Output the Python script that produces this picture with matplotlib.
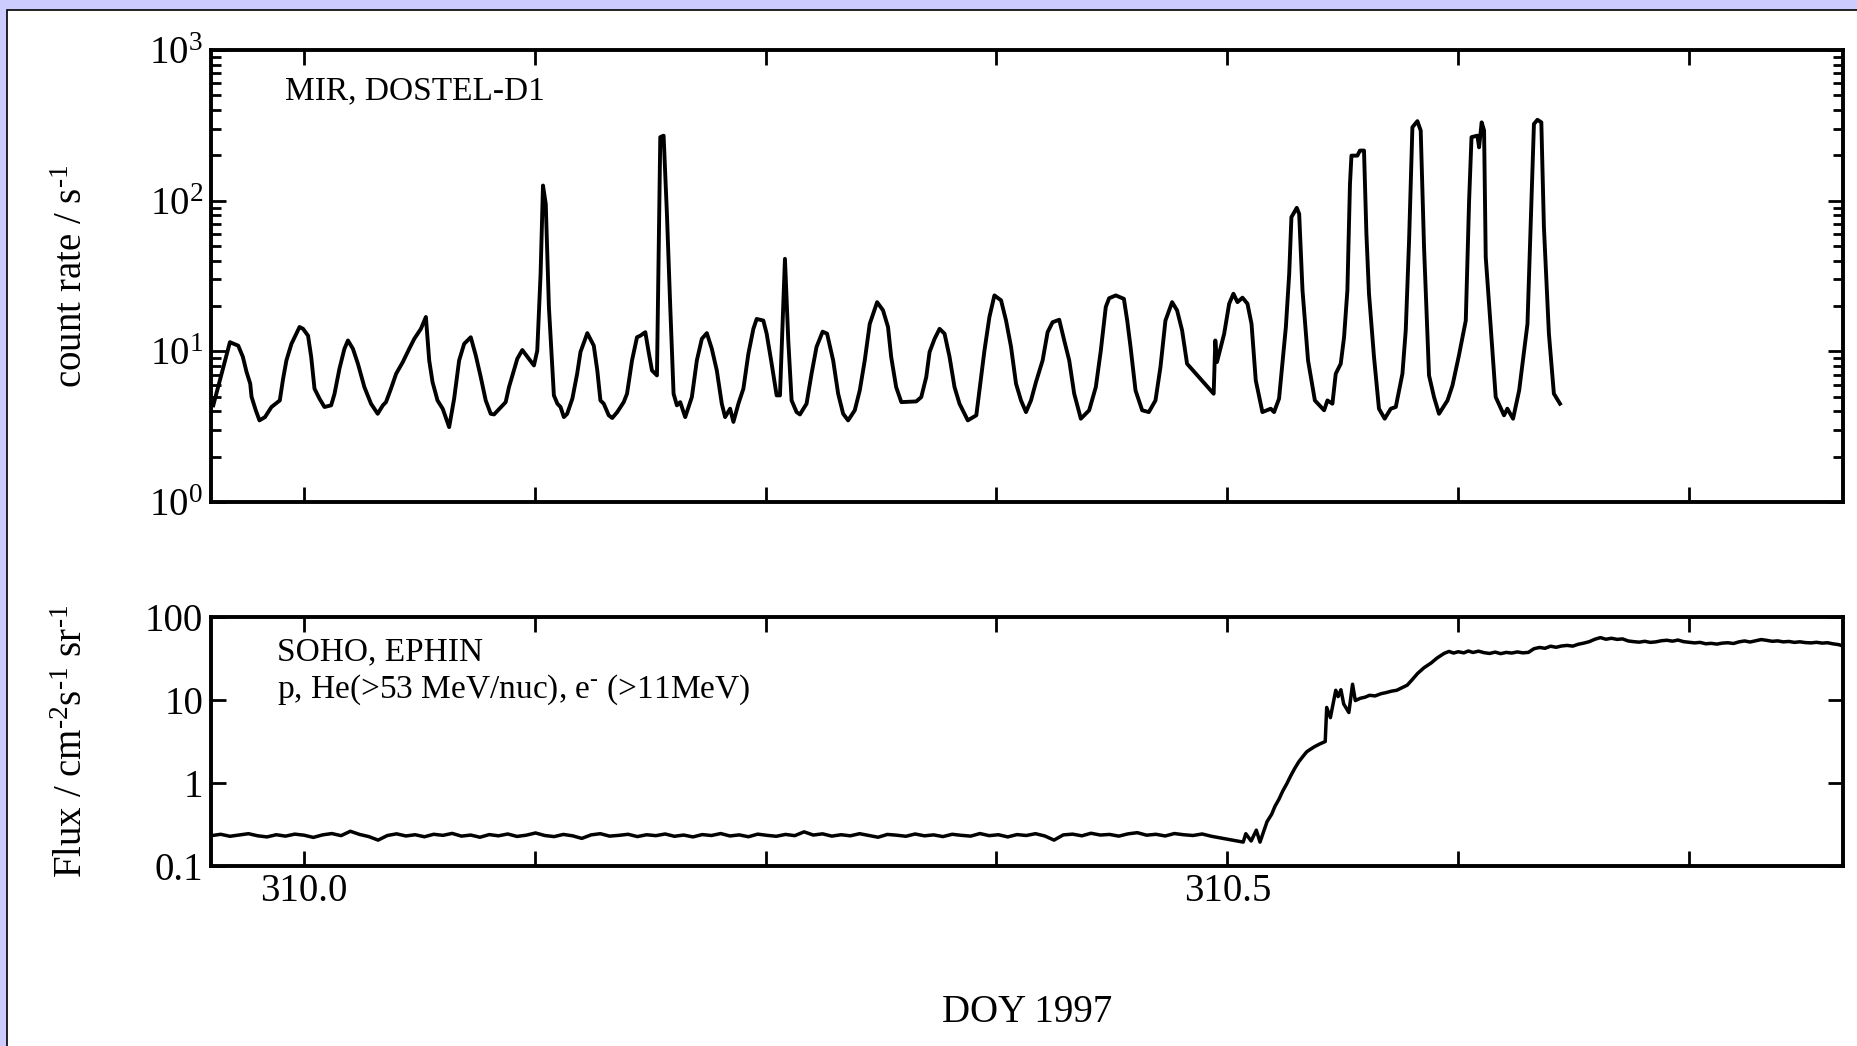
import matplotlib
matplotlib.use('Agg')
import matplotlib.pyplot as plt
from matplotlib.patches import Rectangle
from matplotlib.ticker import FixedLocator, LogLocator, NullLocator, FixedFormatter
import numpy as np

# MIR DOSTEL-D1 count rate (DOY 1997, counts/s)
mir_doy = [
    309.951, 309.9555, 309.960, 309.9645, 309.967, 309.969, 309.971, 309.9717, 309.974, 309.976,
    309.979, 309.9825, 309.987, 309.9888, 309.9906, 309.9933, 309.9977, 309.9996, 310.0023, 310.004,
    310.0058, 310.0085, 310.0112, 310.0148, 310.0166, 310.0193, 310.022, 310.0239, 310.0266, 310.0293,
    310.0328, 310.0364, 310.040, 310.0428, 310.0445, 310.0472, 310.050, 310.0536, 310.0571, 310.0598,
    310.0634, 310.0661, 310.0679, 310.0697, 310.0724, 310.0752, 310.0787, 310.0814, 310.0841, 310.0868,
    310.0904, 310.0931, 310.0958, 310.0985, 310.1012, 310.103, 310.1093, 310.1111, 310.1156, 310.1183,
    310.1219, 310.1246, 310.1264, 310.1282, 310.1295, 310.131, 310.1327, 310.1354,
    310.1373, 310.139, 310.1408, 310.1426, 310.1454, 310.148, 310.1498, 310.1535, 310.157, 310.1589,
    310.1606, 310.1624, 310.1651, 310.167, 310.1697, 310.1732, 310.175, 310.1777, 310.1804, 310.1822,
    310.1849, 310.1867, 310.1885, 310.1912, 310.193, 310.1948, 310.1966, 310.1984, 310.2002, 310.202,
    310.2038, 310.2065, 310.2101, 310.2128, 310.2155, 310.2182, 310.2209, 310.2236, 310.2263, 310.2281,
    310.2308, 310.2326, 310.2353, 310.238, 310.2407, 310.2434, 310.2452, 310.2488, 310.2506, 310.2533,
    310.256, 310.2578, 310.2605, 310.2623, 310.2641, 310.2668, 310.2686, 310.2722, 310.2749, 310.2776,
    310.2809, 310.2833, 310.2866, 310.2893, 310.292, 310.2947, 310.2983, 310.301, 310.3037, 310.3064,
    310.3104, 310.3136, 310.3163, 310.318, 310.3207, 310.3235, 310.3316, 310.3343, 310.337, 310.3388,
    310.3415, 310.3442, 310.3469, 310.3496, 310.3523, 310.355, 310.3595, 310.3641, 310.3658, 310.3685,
    310.3712, 310.3739, 310.3775, 310.3802, 310.3829, 310.3856, 310.3883, 310.391, 310.3937, 310.3964,
    310.400, 310.4027, 310.4054, 310.409, 310.4117, 310.4144, 310.4171, 310.4207, 310.4252, 310.4288,
    310.4315, 310.4342, 310.436, 310.4396, 310.444, 310.4458, 310.4476, 310.4503, 310.4539, 310.4575,
    310.4611, 310.4638, 310.4665, 310.4701, 310.4728, 310.4755, 310.4782, 310.4926, 310.4935, 310.4944,
    310.4983, 310.501, 310.5033, 310.5055, 310.5082, 310.5109, 310.5131, 310.5154, 310.519, 310.5235,
    310.5253, 310.528, 310.5317, 310.5335, 310.5347, 310.5376, 310.5389, 310.5407, 310.5437, 310.5474,
    310.5524, 310.5542, 310.5569, 310.5587, 310.5614, 310.5632, 310.565, 310.5664, 310.5672, 310.5704,
    310.5718, 310.574, 310.5753, 310.5767, 310.5794, 310.5821, 310.5852, 310.5885, 310.5912, 310.5948,
    310.5966, 310.5984, 310.6002, 310.6029, 310.6047, 310.6065, 310.6092, 310.6119, 310.6146, 310.6192,
    310.6219, 310.6254, 310.6291, 310.6309, 310.6322, 310.6354, 310.6363, 310.6377, 310.639, 310.6399,
    310.6426, 310.6453, 310.6498, 310.6516, 310.6547, 310.658, 310.6625, 310.6642, 310.666, 310.6679,
    310.670, 310.6714, 310.6741, 310.6768, 310.6801,
]
mir_rate = [
    4.38, 7.1, 11.5, 10.9, 9.2, 7.3, 6.1, 5.0, 4.06, 3.48,
    3.66, 4.27, 4.72, 6.58, 8.71, 11.2, 14.5, 14.1, 12.7, 9.2,
    5.65, 4.85, 4.27, 4.38, 5.2, 7.66, 10.4, 11.8, 10.4, 8.27,
    5.79, 4.49, 3.85, 4.38, 4.6, 5.65, 7.1, 8.49, 10.4, 12.1,
    14.1, 16.9, 8.7, 6.25, 4.72, 4.16, 3.14, 4.85, 8.7, 11.2,
    12.4, 9.4, 6.75, 4.72, 3.85, 3.81, 4.6, 5.79, 8.93, 10.2,
    8.93, 8.06, 10.1, 32.7, 126, 95, 19.7, 5.1,
    4.49, 4.27, 3.66, 3.85, 4.85, 7.1, 9.9, 13.2, 10.9, 7.47,
    4.72, 4.49, 3.76, 3.61, 3.95, 4.6, 5.23, 8.7, 12.4, 12.7,
    13.4, 9.9, 7.47, 6.92, 264, 270, 81.7, 19.7, 5.23, 4.38,
    4.6, 3.66, 4.97, 8.7, 12.1, 13.2, 10.4, 7.47, 4.49, 3.66,
    4.16, 3.4, 4.49, 5.65, 9.64, 14.1, 16.4, 16.0, 13.1, 8.27,
    5.1, 5.1, 41.1, 11.8, 4.72, 3.95, 3.81, 4.49, 7.1, 10.7,
    13.5, 13.1, 8.7, 5.23, 3.85, 3.48, 4.06, 5.5, 8.7, 15.2,
    21.2, 18.7, 14.5, 9.2, 5.79, 4.6, 4.65, 4.97, 6.75, 9.9,
    12.1, 14.1, 13.1, 9.2, 5.79, 4.49, 3.48, 3.76, 5.5, 10.1,
    16.9, 23.5, 21.8, 16.0, 10.7, 6.1, 4.72, 3.95, 4.72, 6.25,
    8.7, 13.4, 15.6, 16.2, 11.8, 8.7, 5.23, 3.57, 4.06, 5.79,
    10.1, 19.7, 22.5, 23.5, 22.3, 16.0, 10.7, 5.5, 4.06, 3.95,
    4.72, 7.86, 16.0, 21.2, 18.7, 13.8, 8.27, 5.23, 11.8, 8.49,
    13.1, 20.7, 24.1, 21.2, 22.7, 20.7, 15.2, 6.41, 3.95, 4.16,
    3.95, 4.85, 14.5, 32.7, 77.7, 89.6, 81.7, 25.4, 8.7, 4.72,
    4.06, 4.72, 4.49, 7.1, 8.27, 12.4, 25.4, 129, 199, 199,
    215, 215, 60.2, 24.1, 9.2, 4.16, 3.57, 4.16, 4.27, 7.1,
    13.8, 54.4, 307, 337, 292, 49.1, 6.92, 4.97, 3.85, 4.72,
    5.94, 9.4, 16.0, 100, 264, 270, 226, 331, 292, 42.2,
    14.5, 4.97, 3.76, 4.16, 3.57, 5.5, 15.2, 66.7, 323, 344,
    331, 66.7, 13.1, 5.23, 4.49,
]

# SOHO EPHIN quiet-time flux, evenly sampled from DOY 309.95 to 310.4914
ephin_quiet_start = 309.95
ephin_quiet_end = 310.4914
ephin_quiet_flux = [
    0.232, 0.241, 0.228, 0.236, 0.245, 0.231, 0.224, 0.238, 0.229, 0.242,
    0.235, 0.221, 0.237, 0.246, 0.232, 0.262, 0.240, 0.226, 0.205, 0.233,
    0.244, 0.230, 0.238, 0.225, 0.241, 0.234, 0.247, 0.229, 0.236, 0.222,
    0.239, 0.231, 0.243, 0.227, 0.235, 0.250, 0.233, 0.226, 0.240, 0.231,
    0.215, 0.237, 0.245, 0.229, 0.234, 0.241, 0.226, 0.238, 0.232, 0.243,
    0.228, 0.236, 0.224, 0.239, 0.233, 0.246, 0.230, 0.237, 0.225, 0.242,
    0.234, 0.228, 0.240, 0.232, 0.258, 0.236, 0.244, 0.229, 0.238, 0.231,
    0.245, 0.233, 0.222, 0.240, 0.235, 0.228, 0.243, 0.231, 0.237, 0.226,
    0.241, 0.234, 0.229, 0.246, 0.232, 0.238, 0.224, 0.239, 0.233, 0.245,
    0.230, 0.205, 0.237, 0.242, 0.231, 0.248, 0.236, 0.240, 0.229, 0.244,
    0.252, 0.235, 0.241, 0.230, 0.246, 0.238, 0.233, 0.243, 0.228,
]

# SOHO EPHIN event flux (DOY 1997, /cm2 s sr)
ephin_event_doy = [
    310.5086, 310.5100, 310.5129, 310.5157, 310.5177, 310.5215, 310.5240, 310.5258, 310.5280, 310.5300,
    310.5322, 310.5344, 310.5365, 310.5386, 310.5410, 310.5430, 310.5450, 310.5472, 310.5500, 310.5530,
    310.5538, 310.5558, 310.5575, 310.5587, 310.5600, 310.5615, 310.5630, 310.5658, 310.5678, 310.5693,
    310.5720, 310.5745, 310.5770, 310.5800, 310.5831, 310.5860, 310.5890, 310.5917, 310.5950, 310.5974,
    310.6000, 310.6031, 310.6065, 310.6103, 310.6135, 310.6174, 310.6200, 310.6225, 310.6250, 310.6280,
    310.6305, 310.6330, 310.6360, 310.6390, 310.6420, 310.6450, 310.6480, 310.6510, 310.6540, 310.6570,
    310.6600, 310.6630, 310.6660, 310.6690, 310.6720, 310.6750, 310.6780, 310.6810, 310.6840, 310.6870,
    310.6900, 310.6930, 310.6960, 310.6990, 310.7020, 310.7050, 310.7080, 310.7110, 310.7140, 310.7170,
    310.7200, 310.7230, 310.7260, 310.7290, 310.7320, 310.7350, 310.7380, 310.7410, 310.7440, 310.7470,
    310.7500, 310.7530, 310.7560, 310.7590, 310.7620, 310.7650, 310.7680, 310.7710, 310.7740, 310.7770,
    310.7800, 310.7830, 310.7860, 310.7890, 310.7920, 310.7950, 310.7980, 310.8010, 310.8040, 310.8070,
    310.8100, 310.8130, 310.8160, 310.8190, 310.8220, 310.8250, 310.8280, 310.8310, 310.8336,
]
ephin_event_flux = [
    0.194, 0.245, 0.200, 0.270, 0.194, 0.342, 0.42, 0.524, 0.64, 0.80,
    0.98, 1.23, 1.50, 1.79, 2.10, 2.38, 2.55, 2.74, 2.95, 3.16,
    8.14, 6.13, 9.5, 13.1, 11.0, 13.3, 8.96, 7.07, 15.5, 9.84,
    10.5, 10.8, 11.4, 11.2, 11.9, 12.3, 12.8, 13.1, 14.2, 15.1,
    17.5, 21.0, 24.5, 27.9, 32.0, 36.5, 38.5, 36.8, 38.2, 37.0,
    39.0, 37.4, 38.8, 37.2, 36.4, 37.8, 36.2, 37.5, 36.8, 38.0,
    37.0, 37.5, 41.5, 43.0, 42.0, 44.5, 43.2, 44.8, 45.5, 44.6,
    47.0, 48.5, 50.5, 54.0, 56.5, 54.0, 55.5, 53.8, 54.5, 51.5,
    50.5, 49.8, 51.0, 49.5, 50.2, 51.8, 52.5, 51.2, 52.8, 50.5,
    49.6, 48.8, 49.5, 47.6, 48.2, 47.2, 48.5, 49.0, 48.0, 50.2,
    51.5, 50.0, 51.8, 53.5, 52.4, 51.0, 51.6, 50.2, 50.8, 49.5,
    50.3, 49.2, 48.8, 49.6, 48.5, 49.0, 47.5, 46.5, 44.5,
]

x_ticks = [310.0, 310.125, 310.25, 310.375, 310.5, 310.625, 310.75]
x_tick_labels = ['310.0', '', '', '', '310.5', '', '']
mir_yticks = [1, 10, 100, 1000]
mir_ytick_labels = [r'$\mathregular{10^{0}}$', r'$\mathregular{10^{1}}$',
                    r'$\mathregular{10^{2}}$', r'$\mathregular{10^{3}}$']
ephin_yticks = [0.1, 1, 10, 100]
ephin_ytick_labels = ['0.1', '1', '10', '100']


def style_axes(ax):
    for spine in ax.spines.values():
        spine.set_linewidth(2.8)
    ax.tick_params(which='both', direction='in', top=True, right=True,
                   width=2.0, labelsize=28, colors='black')
    ax.tick_params(which='major', length=11)
    ax.tick_params(which='minor', length=7)
    ax.tick_params(axis='y', pad=6)
    ax.tick_params(axis='x', pad=5)
    ax.xaxis.set_major_locator(FixedLocator(x_ticks))
    ax.xaxis.set_minor_locator(NullLocator())
    ax.set_xlim(309.95, 310.8333)


def main():
    plt.rcParams['font.family'] = 'Liberation Serif'
    plt.rcParams['mathtext.fontset'] = 'custom'
    plt.rcParams['mathtext.rm'] = 'Liberation Serif'
    plt.rcParams['mathtext.it'] = 'Liberation Serif:italic'
    plt.rcParams['mathtext.bf'] = 'Liberation Serif:bold'

    fig = plt.figure(figsize=(18.58, 10.46), dpi=100, facecolor='#ccccff')
    panel = Rectangle((0.0038, -0.1), 1.2, 1.0904, transform=fig.transFigure,
                      facecolor='white', edgecolor='black', linewidth=1.2, zorder=-5)
    fig.add_artist(panel)

    ax1 = fig.add_axes([0.1138, 0.5201, 0.8781, 0.4321])
    ax2 = fig.add_axes([0.1138, 0.1721, 0.8781, 0.2380])

    # top: MIR
    ax1.plot(mir_doy, mir_rate, color='black', linewidth=2.8)
    ax1.set_yscale('log')
    ax1.set_ylim(1, 1000)
    style_axes(ax1)
    ax1.yaxis.set_major_locator(FixedLocator(mir_yticks))
    ax1.yaxis.set_major_formatter(FixedFormatter(mir_ytick_labels))
    ax1.yaxis.set_minor_locator(LogLocator(base=10, subs=np.arange(2, 10)))
    ax1.set_xticklabels([])
    ax1.text(0.045, 0.8916, 'MIR, DOSTEL-D1', transform=ax1.transAxes,
             fontsize=24, va='baseline', ha='left')
    ax1.set_ylabel(r'count rate / s$^{\text{-1}}$', fontsize=28)
    ax1.yaxis.set_label_coords(-0.074, 0.5)

    # bottom: SOHO EPHIN
    quiet_doy = np.linspace(ephin_quiet_start, ephin_quiet_end, len(ephin_quiet_flux))
    ephin_doy = np.concatenate([quiet_doy, ephin_event_doy])
    ephin_flux = np.concatenate([ephin_quiet_flux, ephin_event_flux])
    ax2.plot(ephin_doy, ephin_flux, color='black', linewidth=2.5)
    ax2.set_yscale('log')
    ax2.set_ylim(0.1, 100)
    style_axes(ax2)
    ax2.yaxis.set_major_locator(FixedLocator(ephin_yticks))
    ax2.yaxis.set_major_formatter(FixedFormatter(ephin_ytick_labels))
    ax2.yaxis.set_minor_locator(NullLocator())
    ax2.set_xticklabels(x_tick_labels)
    ax2.text(0.040, 0.827, 'SOHO, EPHIN', transform=ax2.transAxes,
             fontsize=24, va='baseline', ha='left')
    ax2.text(0.040, 0.675, r'p, He(>53 MeV/nuc), e$^{\text{-}}$ (>11MeV)', transform=ax2.transAxes,
             fontsize=24, va='baseline', ha='left')
    ax2.set_ylabel(r'Flux / cm$^{\text{-2}}$s$^{\text{-1}}$ sr$^{\text{-1}}$', fontsize=28)
    ax2.yaxis.set_label_coords(-0.074, 0.5)
    ax2.set_xlabel('DOY 1997', fontsize=28)
    ax2.xaxis.set_label_coords(0.5, -0.514)

    fig.savefig('out.png', dpi=100, facecolor=fig.get_facecolor())


if __name__ == '__main__':
    main()
